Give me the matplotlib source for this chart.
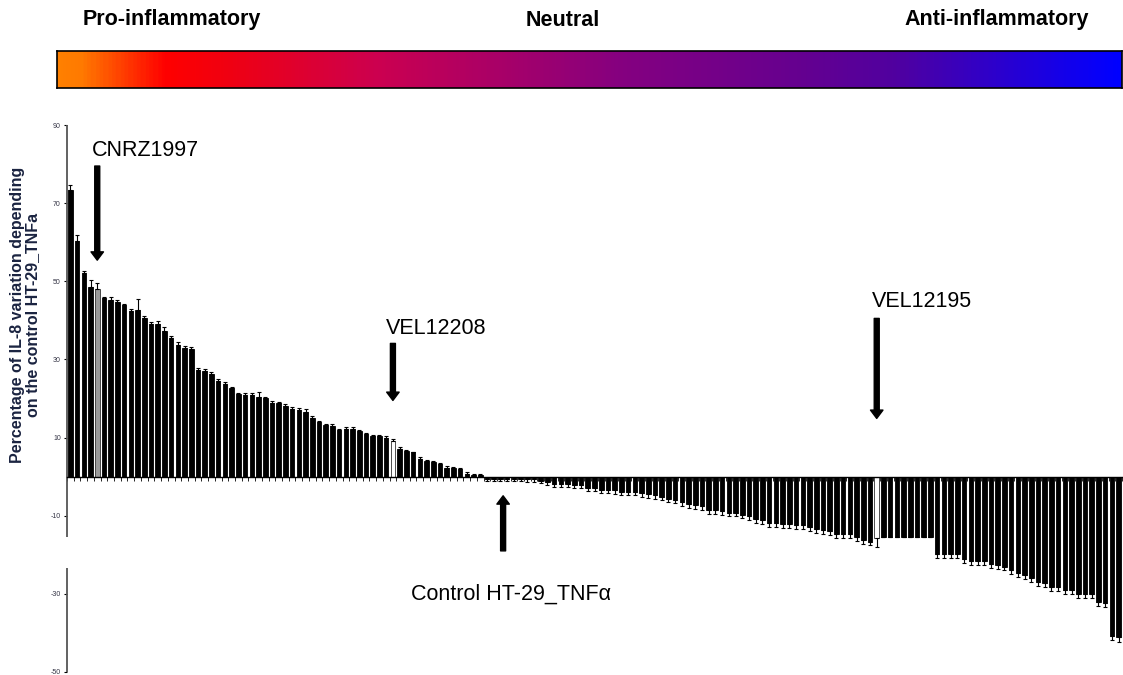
import numpy as np
import matplotlib
matplotlib.use("Agg")
import matplotlib.pyplot as plt
from matplotlib.colors import LinearSegmentedColormap
from matplotlib.transforms import blended_transform_factory

plt.rcParams['font.family'] = ['Liberation Sans', 'DejaVu Sans']

# ---------------- data ----------------
pos_values = [73.4, 60.4, 52.2, 48.6, 47.9, 45.6, 45.2, 44.8, 43.9, 42.5,
              42.6, 40.7, 39.0, 39.0, 37.3, 35.6, 33.7, 33.0, 32.6, 27.3,
              27.0, 26.3, 24.4, 23.6, 22.6, 21.1, 20.8, 20.8, 20.4, 20.2,
              18.9, 18.8, 18.0, 17.4, 17.0, 16.6, 15.1, 14.0, 13.2, 13.0,
              11.9, 12.3, 12.3, 11.7, 10.8, 10.3, 10.3, 10.0, 9.1, 7.2,
              6.5, 6.2, 4.6, 4.0, 3.8, 3.3, 2.3, 2.2, 1.9, 0.8,
              0.4, 0.3]
neg_values_a = [-0.5, -0.5, -0.5, -0.6, -0.6, -0.6, -0.7, -0.7, -1.0, -1.4,
                -1.9, -1.9, -1.9, -2.1, -2.1, -2.8, -2.8, -3.3, -3.3, -3.5,
                -3.9, -3.9, -3.9, -4.2, -4.5, -4.8, -5.2, -5.6, -5.9, -6.5,
                -6.9]
neg_values_b = [-7.3, -7.6, -8.6, -8.6, -8.9, -9.2, -9.2, -9.7, -10.0, -10.8,
                -11.1, -11.8, -11.8, -12.2, -12.2, -12.3, -12.5, -12.8, -13.3, -13.7,
                -14.0, -14.6, -14.6, -14.8, -15.5, -16.2, -16.6]
neg_values_c = [-15.6, -15.5, -15.5, -15.5, -15.5, -15.5, -15.5, -15.5, -15.5]
neg_values_d = [-19.8, -19.8, -19.8, -19.8, -21.0, -21.7, -21.7, -21.7, -22.3, -22.6,
                -23.0, -24.0, -24.6, -25.3, -26.0, -27.0, -27.3, -28.3, -28.3, -29.1,
                -29.1, -30.0, -30.0, -30.0, -32.0, -32.4, -40.7, -41.1]

pos_errors = [1.2, 1.5, 0.4, 1.8, 1.7, 0.4, 0.9, 0.4, 0.3, 0.5,
              2.8, 0.3, 0.6, 0.8, 1.0, 0.3, 0.7, 0.4, 0.5, 0.6,
              0.5, 0.5, 0.6, 0.5, 0.4, 0.3, 0.5, 0.6, 1.3, 0.3,
              0.4, 0.4, 0.5, 0.5, 0.6, 0.6, 0.4, 0.3, 0.3, 0.4,
              0.3, 0.4, 0.3, 0.3, 0.3, 0.4, 0.4, 0.4, 0.6, 0.3,
              0.3, 0.2, 0.3, 0.2, 0.2, 0.3, 0.3, 0.2, 0.3, 0.3,
              0.3, 0.3]
neg_errors_a = [0.6, 0.6, 0.6, 0.6, 0.6, 0.6, 0.6, 0.7, 0.7, 0.8,
                0.8, 0.8, 0.8, 0.8, 0.8, 0.9, 0.9, 0.9, 0.9, 0.9,
                0.9, 0.9, 0.9, 0.9, 0.9, 0.9, 0.9, 0.9, 0.9, 1.0,
                1.0]
neg_errors_b = [1.0, 1.0, 1.0, 1.0, 1.0, 1.0, 1.0, 1.0, 1.0, 1.0,
                1.0, 1.0, 1.0, 1.0, 1.0, 1.0, 1.0, 1.0, 1.0, 1.0,
                1.0, 1.0, 1.0, 1.0, 1.0, 1.0, 1.0]
neg_errors_c = [2.3, 0.0, 0.0, 0.0, 0.0, 0.0, 0.0, 0.0, 0.0]
neg_errors_d = [1.0, 1.0, 1.0, 1.0, 1.0, 1.0, 1.0, 1.0, 1.0, 1.0,
                1.0, 1.0, 1.0, 1.0, 1.0, 1.0, 1.0, 1.0, 1.0, 1.0,
                1.0, 1.0, 1.0, 1.0, 1.0, 1.0, 1.2, 1.2]

values = np.array(pos_values + neg_values_a + neg_values_b + neg_values_c + neg_values_d)
errors = np.array(pos_errors + neg_errors_a + neg_errors_b + neg_errors_c + neg_errors_d)

highlight_idx = [4, 48, 120]
highlight_names = ['CNRZ1997', 'VEL12208', 'VEL12195']
highlight_fill = ['#9a9a9a', 'white', 'white']
control_idx = 64
control_name = 'Control HT-29_TNF\u03b1'

ytick_vals = [90, 70, 50, 30, 10, -10, -30, -50]
ytick_labels = ['90', '70', '50', '30', '10', '-10', '-30', '-50']

scale_labels = ['Pro-inflammatory', 'Neutral', 'Anti-inflammatory']
ylabel_text = 'Percentage of IL-8 variation depending\non the control HT-29_TNFa'

# ---------------- figure ----------------
W, H = 1123, 675
fig = plt.figure(figsize=(W / 100, H / 100), dpi=100)
fig.patch.set_facecolor('white')

# colour scale bar
cmap = LinearSegmentedColormap.from_list('inflam', [
    (0.0, '#FF8000'), (0.02, '#FF7A00'), (0.10, '#FF0000'), (0.16, '#F00012'),
    (0.30, '#CC0050'), (0.53, '#850080'), (0.70, '#650090'), (0.79, '#5000A0'),
    (0.875, '#3000C8'), (0.98, '#0800F8'), (1.0, '#0000FF')])
cax = fig.add_axes([57 / W, (H - 88) / H, 1065 / W, 37 / H])
cax.imshow(np.linspace(0, 1, 600)[None, :], aspect='auto', cmap=cmap,
           extent=[0, 1, 0, 1])
cax.set_xticks([])
cax.set_yticks([])
for s in cax.spines.values():
    s.set_linewidth(1.2)
    s.set_color('black')

for lab, xc in zip(scale_labels, [172, 563, 997]):
    fig.text(xc / W, (H - 20) / H, lab, ha='center', va='center',
             fontsize=15.5, fontweight='bold', color='black')

# bar chart
ax = fig.add_axes([67 / W, 3 / H, (1122 - 67) / W, 547 / H])
n = len(values)
x = np.arange(n)
colors = ['black'] * n
edges = ['black'] * n
for i, c in zip(highlight_idx, highlight_fill):
    colors[i] = c
    edges[i] = '#333333'
ax.bar(x, values, width=0.68, color=colors, edgecolor=edges, linewidth=0.6)
lower = np.where(values < 0, errors, 0)
upper = np.where(values >= 0, errors, 0)
ax.errorbar(x, values, yerr=[lower, upper], fmt='none', ecolor='black',
            elinewidth=0.8, capsize=1.6, capthick=0.8)

ax.set_xlim(-0.37, n - 1 + 0.45)
ax.set_ylim(-50, 90)
ax.spines['top'].set_visible(False)
ax.spines['right'].set_visible(False)
ax.spines['left'].set_visible(False)
ax.spines['bottom'].set_position(('data', 0))
ax.spines['bottom'].set_linewidth(1.0)
ax.set_xticks(np.arange(-0.5, n, 1))
ax.set_xticklabels([])
ax.tick_params(axis='x', direction='out', length=3, width=0.6)

ax.set_yticks(ytick_vals)
ax.set_yticklabels(ytick_labels)
ax.tick_params(axis='y', direction='out', length=2.5, width=0.8,
               labelsize=5, labelcolor='#333344', pad=2)

# broken y axis line
trans = blended_transform_factory(ax.transAxes, ax.transData)
ax.plot([0, 0], [90, -15.4], transform=trans, color='#555555', lw=1.3,
        clip_on=False, solid_capstyle='butt')
ax.plot([0, 0], [-23.3, -50], transform=trans, color='#555555', lw=1.3,
        clip_on=False, solid_capstyle='butt')

fig.text(25 / W, (H - 315) / H, ylabel_text, rotation=90, ha='center',
         va='center', multialignment='center', fontsize=11.5,
         fontweight='bold', color='#1a2340', linespacing=1.05)

# annotations
arrow_kw = dict(facecolor='black', edgecolor='black', width=3.6,
                headwidth=9, headlength=6, shrink=0)
ann = [
    # (bar index, tail value, tip value, text x, text y)
    (highlight_idx[0], 79.5, 55.4, 11.2, 83.6),
    (highlight_idx[1], 34.1, 19.5, 54.5, 37.9),
    (highlight_idx[2], 40.5, 14.9, 126.7, 44.9),
]
for (i, tail, tip, tx, ty), name in zip(ann, highlight_names):
    ax.annotate('', xy=(i, tip), xytext=(i, tail), arrowprops=arrow_kw)
    ax.text(tx, ty, name, ha='center', va='center', fontsize=15.5)

ax.annotate('', xy=(control_idx + 0.4, -4.9), xytext=(control_idx + 0.4, -19.0),
            arrowprops=arrow_kw)
ax.text(65.5, -30.0, control_name, ha='center', va='center', fontsize=15.5)

fig.savefig('out.png', dpi=100, facecolor='white')
